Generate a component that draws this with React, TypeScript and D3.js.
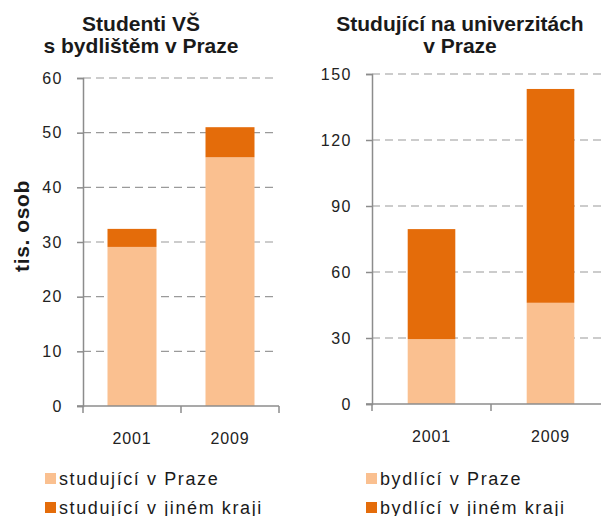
import { useEffect, useRef } from "react";
import * as d3 from "d3";

const years = ["2001", "2009"];
const studujiciVPraze = [29.1, 45.5];
const studujiciJinde = [3.3, 5.5];
const bydliciVPraze = [29.5, 46.0];
const bydliciJinde = [50.0, 97.2];
const leftTicks = [0, 10, 20, 30, 40, 50, 60];
const rightTicks = [0, 30, 60, 90, 120, 150];

const LIGHT = "#FAC090";
const DARK = "#E46C0A";
const FONT = "'Liberation Sans', Arial, sans-serif";

interface PanelProps {
  title: string[];
  titleX: number;
  bottom: number[];
  top: number[];
  ticks: number[];
  left: number;
  yTop: number;
  yBottom: number;
  bandWidth: number;
  padding: number;
  gridEnd: number;
  legend: string[];
  legendX: number;
  axisLabel?: string;
}

const drawPanel = (
  svg: d3.Selection<SVGSVGElement, unknown, null, undefined>,
  p: PanelProps
) => {
  const g = svg.append("g");

  const x = d3.scaleBand()
    .domain(years)
    .range([p.left, p.left + p.bandWidth * years.length])
    .paddingInner(p.padding)
    .paddingOuter(p.padding / 2);

  const y = d3.scaleLinear()
    .domain([0, d3.max(p.ticks) || 0])
    .range([p.yBottom, p.yTop]);

  // Title
  p.title.forEach((line, i) => {
    g.append("text")
      .attr("x", p.titleX)
      .attr("y", 31 + i * 22)
      .attr("text-anchor", "middle")
      .attr("font-family", FONT)
      .attr("font-weight", "bold")
      .attr("font-size", "21px")
      .attr("fill", "#1a1a1a")
      .text(line);
  });

  // Gridlines
  p.ticks.filter(t => t > 0).forEach(t => {
    g.append("line")
      .attr("x1", p.left)
      .attr("x2", p.gridEnd)
      .attr("y1", y(t))
      .attr("y2", y(t))
      .attr("stroke", "#9a9a9a")
      .attr("stroke-width", 1.2)
      .attr("stroke-dasharray", "8,5");
  });

  // Bars
  years.forEach((yr, i) => {
    const bx = x(yr) || 0;
    g.append("rect")
      .attr("x", bx)
      .attr("y", y(p.bottom[i]))
      .attr("width", x.bandwidth())
      .attr("height", y(0) - y(p.bottom[i]))
      .attr("fill", LIGHT);
    g.append("rect")
      .attr("x", bx)
      .attr("y", y(p.bottom[i] + p.top[i]))
      .attr("width", x.bandwidth())
      .attr("height", y(p.bottom[i]) - y(p.bottom[i] + p.top[i]))
      .attr("fill", DARK);
  });

  // Y axis
  const yAxis = g.append("g")
    .attr("transform", `translate(${p.left},0)`)
    .call(d3.axisLeft(y).tickValues(p.ticks).tickSize(6).tickPadding(14));
  yAxis.select(".domain").attr("stroke", "#8c8c8c").attr("stroke-width", 1.5);
  yAxis.selectAll(".tick line").attr("stroke", "#8c8c8c").attr("stroke-width", 1.5);
  yAxis.selectAll(".tick text")
    .attr("font-family", FONT)
    .attr("font-size", "16px")
    .attr("letter-spacing", "1.5px")
    .attr("fill", "#222");

  // X axis
  const xEnd = p.left + p.bandWidth * years.length;
  g.append("line")
    .attr("x1", p.left - 6)
    .attr("x2", xEnd)
    .attr("y1", y(0))
    .attr("y2", y(0))
    .attr("stroke", "#8c8c8c")
    .attr("stroke-width", 1.5);
  d3.range(years.length + 1).forEach(i => {
    const tx = p.left + i * p.bandWidth;
    g.append("line")
      .attr("x1", tx)
      .attr("x2", tx)
      .attr("y1", y(0))
      .attr("y2", y(0) + 7)
      .attr("stroke", "#8c8c8c")
      .attr("stroke-width", 1.5);
  });
  years.forEach(yr => {
    g.append("text")
      .attr("x", (x(yr) || 0) + x.bandwidth() / 2)
      .attr("y", y(0) + 38)
      .attr("text-anchor", "middle")
      .attr("font-family", FONT)
      .attr("font-size", "16px")
      .attr("letter-spacing", "0.8px")
      .attr("fill", "#222")
      .text(yr);
  });

  if (p.axisLabel) {
    g.append("text")
      .attr("transform", `translate(29,226) rotate(-90)`)
      .attr("text-anchor", "middle")
      .attr("font-family", FONT)
      .attr("font-weight", "bold")
      .attr("font-size", "21px")
      .attr("letter-spacing", "0.6px")
      .attr("fill", "#1a1a1a")
      .text(p.axisLabel);
  }

  // Legend
  [LIGHT, DARK].forEach((c, i) => {
    const ly = 478.5 + i * 29;
    g.append("rect")
      .attr("x", p.legendX)
      .attr("y", ly - 5.5)
      .attr("width", 11)
      .attr("height", 11)
      .attr("fill", c);
    g.append("text")
      .attr("x", p.legendX + 14)
      .attr("y", ly + 6)
      .attr("font-family", FONT)
      .attr("font-size", "18px")
      .attr("letter-spacing", "1.6px")
      .attr("fill", "#1a1a1a")
      .text(p.legend[i]);
  });
};

const App = () => {
  const svgRef = useRef<SVGSVGElement | null>(null);

  useEffect(() => {
    if (!svgRef.current) return;
    const svg = d3.select(svgRef.current);
    svg.selectAll("*").remove();

    drawPanel(svg, {
      title: ["Studenti VŠ", "s bydlištěm v Praze"],
      titleX: 141,
      bottom: studujiciVPraze,
      top: studujiciJinde,
      ticks: leftTicks,
      left: 83,
      yTop: 78,
      yBottom: 406,
      bandWidth: 98,
      padding: 0.5,
      gridEnd: 273,
      legend: ["studující v Praze", "studující v jiném kraji"],
      legendX: 45,
      axisLabel: "tis. osob",
    });

    drawPanel(svg, {
      title: ["Studující na univerzitách", "v Praze"],
      titleX: 460,
      bottom: bydliciVPraze,
      top: bydliciJinde,
      ticks: rightTicks,
      left: 372,
      yTop: 74,
      yBottom: 404,
      bandWidth: 119,
      padding: 0.6,
      gridEnd: 601,
      legend: ["bydlící v Praze", "bydlící v jiném kraji"],
      legendX: 366,
    });
  }, []);

  return (
    <div style={{ position: "absolute", left: 0, top: 0 }}>
      <svg ref={svgRef} width={601} height={516} style={{ display: "block", background: "#fff" }} />
    </div>
  );
};

export default App;
